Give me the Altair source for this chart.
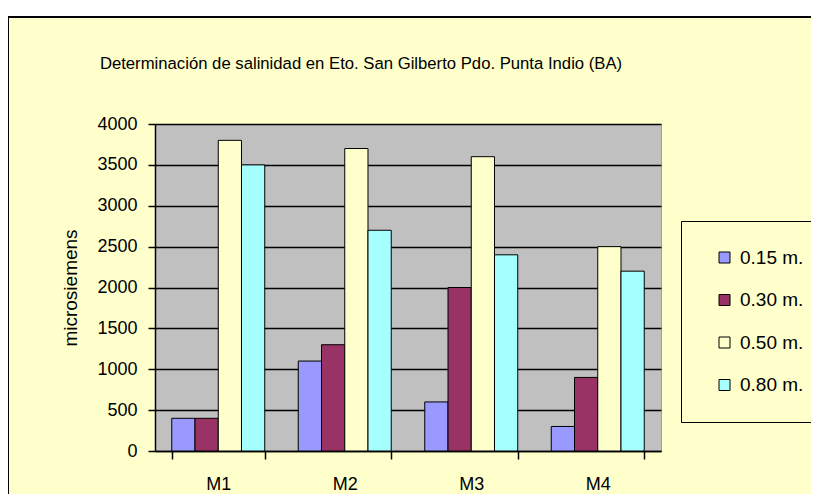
import altair as alt
import pandas as pd

samples = ["M1", "M2", "M3", "M4"]
depths = ["0.15 m.", "0.30 m.", "0.50 m.", "0.80 m."]
v015 = [400, 1100, 600, 300]
v030 = [400, 1300, 2000, 900]
v050 = [3800, 3700, 3600, 2500]
v080 = [3500, 2700, 2400, 2200]
colors = ["#9999FF", "#993366", "#FFFFCC", "#A6FFFF"]
title_text = "Determinación de salinidad en Eto. San Gilberto Pdo. Punta Indio (BA)"

rows = []
for series, vals in zip(depths, [v015, v030, v050, v080]):
    for s, v in zip(samples, vals):
        rows.append({"sample": s, "depth": series, "value": v})
df = pd.DataFrame(rows)

W, H = 506, 327
FONT = "Liberation Sans"

bars = alt.Chart(df).mark_bar(stroke="black", strokeWidth=1).encode(
    x=alt.X("sample:N", sort=samples,
            scale=alt.Scale(paddingInner=0.265, paddingOuter=0.1325),
            axis=alt.Axis(title=None, labelAngle=0, tickBand="extent",
                          tickSize=8, labelPadding=16, labelFontSize=18,
                          labelFont=FONT, labelColor="black",
                          domainColor="black", tickColor="black",
                          domainWidth=1.5, tickWidth=1.5, grid=False)),
    xOffset=alt.XOffset("depth:N", sort=depths, scale=alt.Scale(paddingInner=0, paddingOuter=0)),
    y=alt.Y("value:Q", scale=alt.Scale(domain=[0, 4000], nice=False),
            axis=alt.Axis(title="microsiemens", values=list(range(0, 4001, 500)),
                          format="d",
                          tickSize=7, labelPadding=11, labelFontSize=18,
                          labelFont=FONT, labelColor="black",
                          titleFont=FONT, titleFontSize=19, titleFontWeight="normal",
                          titleColor="black", titlePadding=16,
                          domainColor="black", tickColor="black",
                          domainWidth=1.5, tickWidth=1.5,
                          grid=True, gridColor="black", gridWidth=1.5)),
    color=alt.Color("depth:N", sort=depths,
                    scale=alt.Scale(domain=depths, range=colors),
                    legend=alt.Legend(title=None, orient="none", legendX=526, legendY=97,
                                      strokeColor="black", fillColor="#FFFFCC",
                                      padding=27, rowPadding=22.5,
                                      symbolType="square", symbolSize=121,
                                      symbolStrokeColor="black", symbolStrokeWidth=1,
                                      symbolOffset=7, labelOffset=6,
                                      labelFont=FONT, labelFontSize=19,
                                      labelColor="black")),
)

frame_data = alt.Data(values=[{"k": 1}])
border = alt.Chart(frame_data).mark_rect(fill=None, stroke="black", strokeWidth=2).encode(
    x=alt.value(-147), x2=alt.value(W + 200), y=alt.value(-107), y2=alt.value(H + 100)
)
white_strip = alt.Chart(frame_data).mark_rect(fill="white", stroke=None).encode(
    x=alt.value(-148), x2=alt.value(W + 200), y=alt.value(-117), y2=alt.value(-108)
)
title = alt.Chart(frame_data).mark_text(
    text=title_text, font=FONT, fontSize=16.7, color="black",
    align="center", baseline="alphabetic"
).encode(x=alt.value(206), y=alt.value(-55))

chart = alt.layer(bars, border, white_strip, title).properties(
    width=W, height=H,
    autosize=alt.AutoSizeParams(type="none"),
    padding={"left": 147, "top": 116, "right": 150, "bottom": 43},
    background="#FFFFCC",
).configure_view(fill="#C0C0C0", stroke="#A0A0A0", strokeWidth=1)

chart.save("out.html", embed_options={"renderer": "svg", "actions": False})
